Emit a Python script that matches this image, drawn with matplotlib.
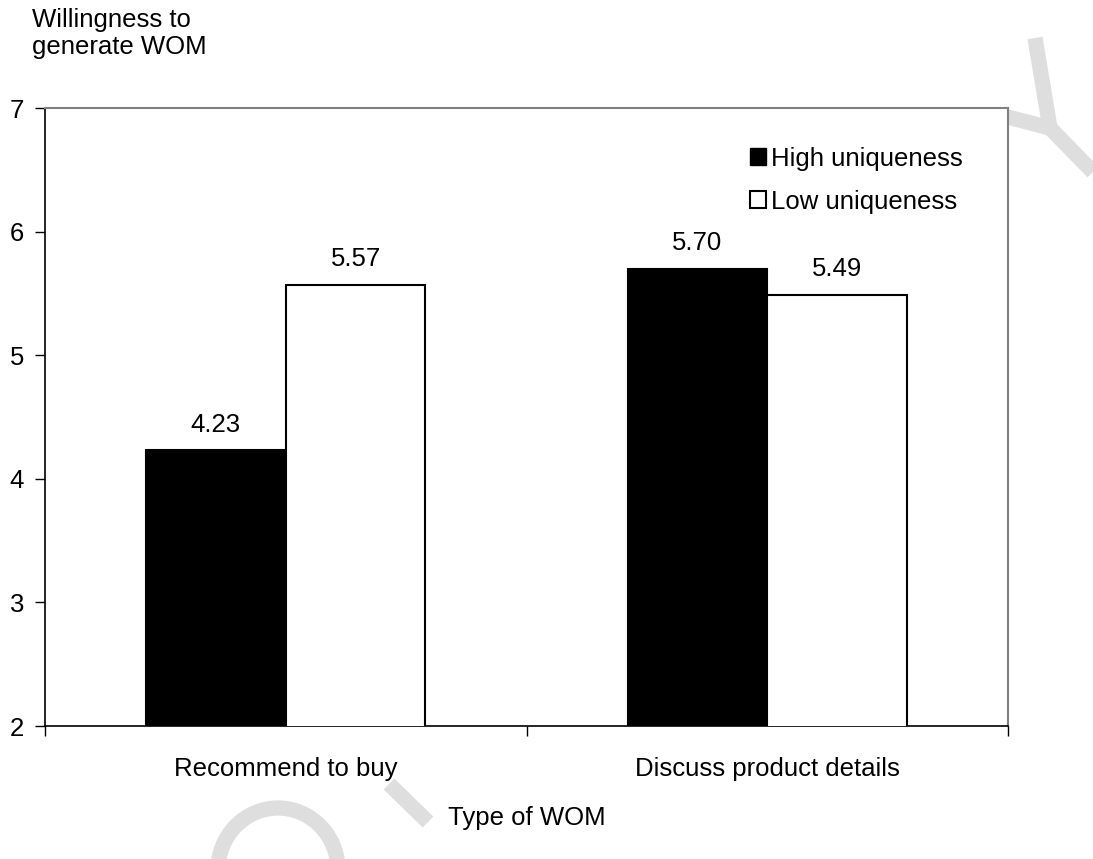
import matplotlib.pyplot as plt
from matplotlib.lines import Line2D
from matplotlib.patches import Arc, Patch

plt.rcParams['font.family'] = ['Liberation Sans', 'DejaVu Sans']

# Mean willingness scores by WOM type and product uniqueness
categories = ['Recommend to buy', 'Discuss product details']
high_uniqueness = [4.23, 5.70]
low_uniqueness = [5.57, 5.49]
series_names = ['High uniqueness', 'Low uniqueness']

FS = 18.5
W, H = 1093, 859
fig = plt.figure(figsize=(W / 100, H / 100), dpi=100)
ax = fig.add_axes([45 / W, 1 - 726 / H, 963 / W, 618 / H])


def px(x, y):
    # pixel position (from top-left) -> figure fraction
    return x / W, 1 - y / H


# faint background stamp, sits behind the axes
wm = dict(color='#dedede', linewidth=11, solid_capstyle='butt', zorder=-5)
for (x0, y0), (x1, y1) in [((1035, 38), (1050, 128)),
                           ((1000, 115), (1050, 128)),
                           ((1048, 126), (1093, 172)),
                           ((389, 784), (428, 822))]:
    a, b = px(x0, y0)
    c, d = px(x1, y1)
    fig.add_artist(Line2D([a, c], [b, d], transform=fig.transFigure, **wm))
cx, cy = px(278, 870)
fig.add_artist(Arc((cx, cy), 120 / W, 124 / H, theta1=0, theta2=180,
                   transform=fig.transFigure, color='#dedede', linewidth=11,
                   zorder=-5))

centers = [0.5 + i for i in range(len(categories))]
width = 0.29
hb = ax.bar([c - width / 2 for c in centers], high_uniqueness, width,
            bottom=0, color='black', edgecolor='black', linewidth=1.5,
            label=series_names[0], zorder=3)
lb = ax.bar([c + width / 2 for c in centers], low_uniqueness, width,
            bottom=0, color='white', edgecolor='black', linewidth=1.5,
            label=series_names[1], zorder=3)

for bars, vals in [(hb, high_uniqueness), (lb, low_uniqueness)]:
    for b, v in zip(bars, vals):
        ax.text(b.get_x() + b.get_width() / 2, v + 0.11, f'{v:.2f}',
                ha='center', va='bottom', fontsize=FS)

ax.set_xlim(0, len(categories))
ax.set_ylim(2, 7)
ax.set_yticks(range(2, 8))
ax.set_xticks(range(len(categories) + 1))
ax.set_xticklabels([])
ax.set_xticks(centers, minor=True)
ax.set_xticklabels(categories, minor=True, fontsize=FS)
ax.tick_params(axis='x', which='minor', length=0, pad=22)
ax.tick_params(axis='x', which='major', direction='out', length=7, width=1)
ax.tick_params(axis='y', direction='out', length=7, width=1, labelsize=FS, pad=8)

for s in ['top', 'right']:
    ax.spines[s].set_color('#808080')
    ax.spines[s].set_linewidth(1.5)
for s in ['left', 'bottom']:
    ax.spines[s].set_color('black')
    ax.spines[s].set_linewidth(1.2)

handles = [Patch(facecolor='black', edgecolor='black'),
           Patch(facecolor='white', edgecolor='black', linewidth=1.5)]
ax.legend(handles, series_names, loc='upper right', bbox_to_anchor=(0.977, 0.975),
          frameon=False, fontsize=FS, handlelength=0.62, handleheight=0.62,
          handletextpad=0.2, labelspacing=0.75)

fig.text(32 / W, 1 - 8 / H, 'Willingness to\ngenerate WOM', ha='left', va='top',
         fontsize=FS, linespacing=1.15)
fig.text(527 / W, 1 - 818 / H, 'Type of WOM', ha='center', va='center', fontsize=FS)

fig.savefig('out.png', dpi=100)
